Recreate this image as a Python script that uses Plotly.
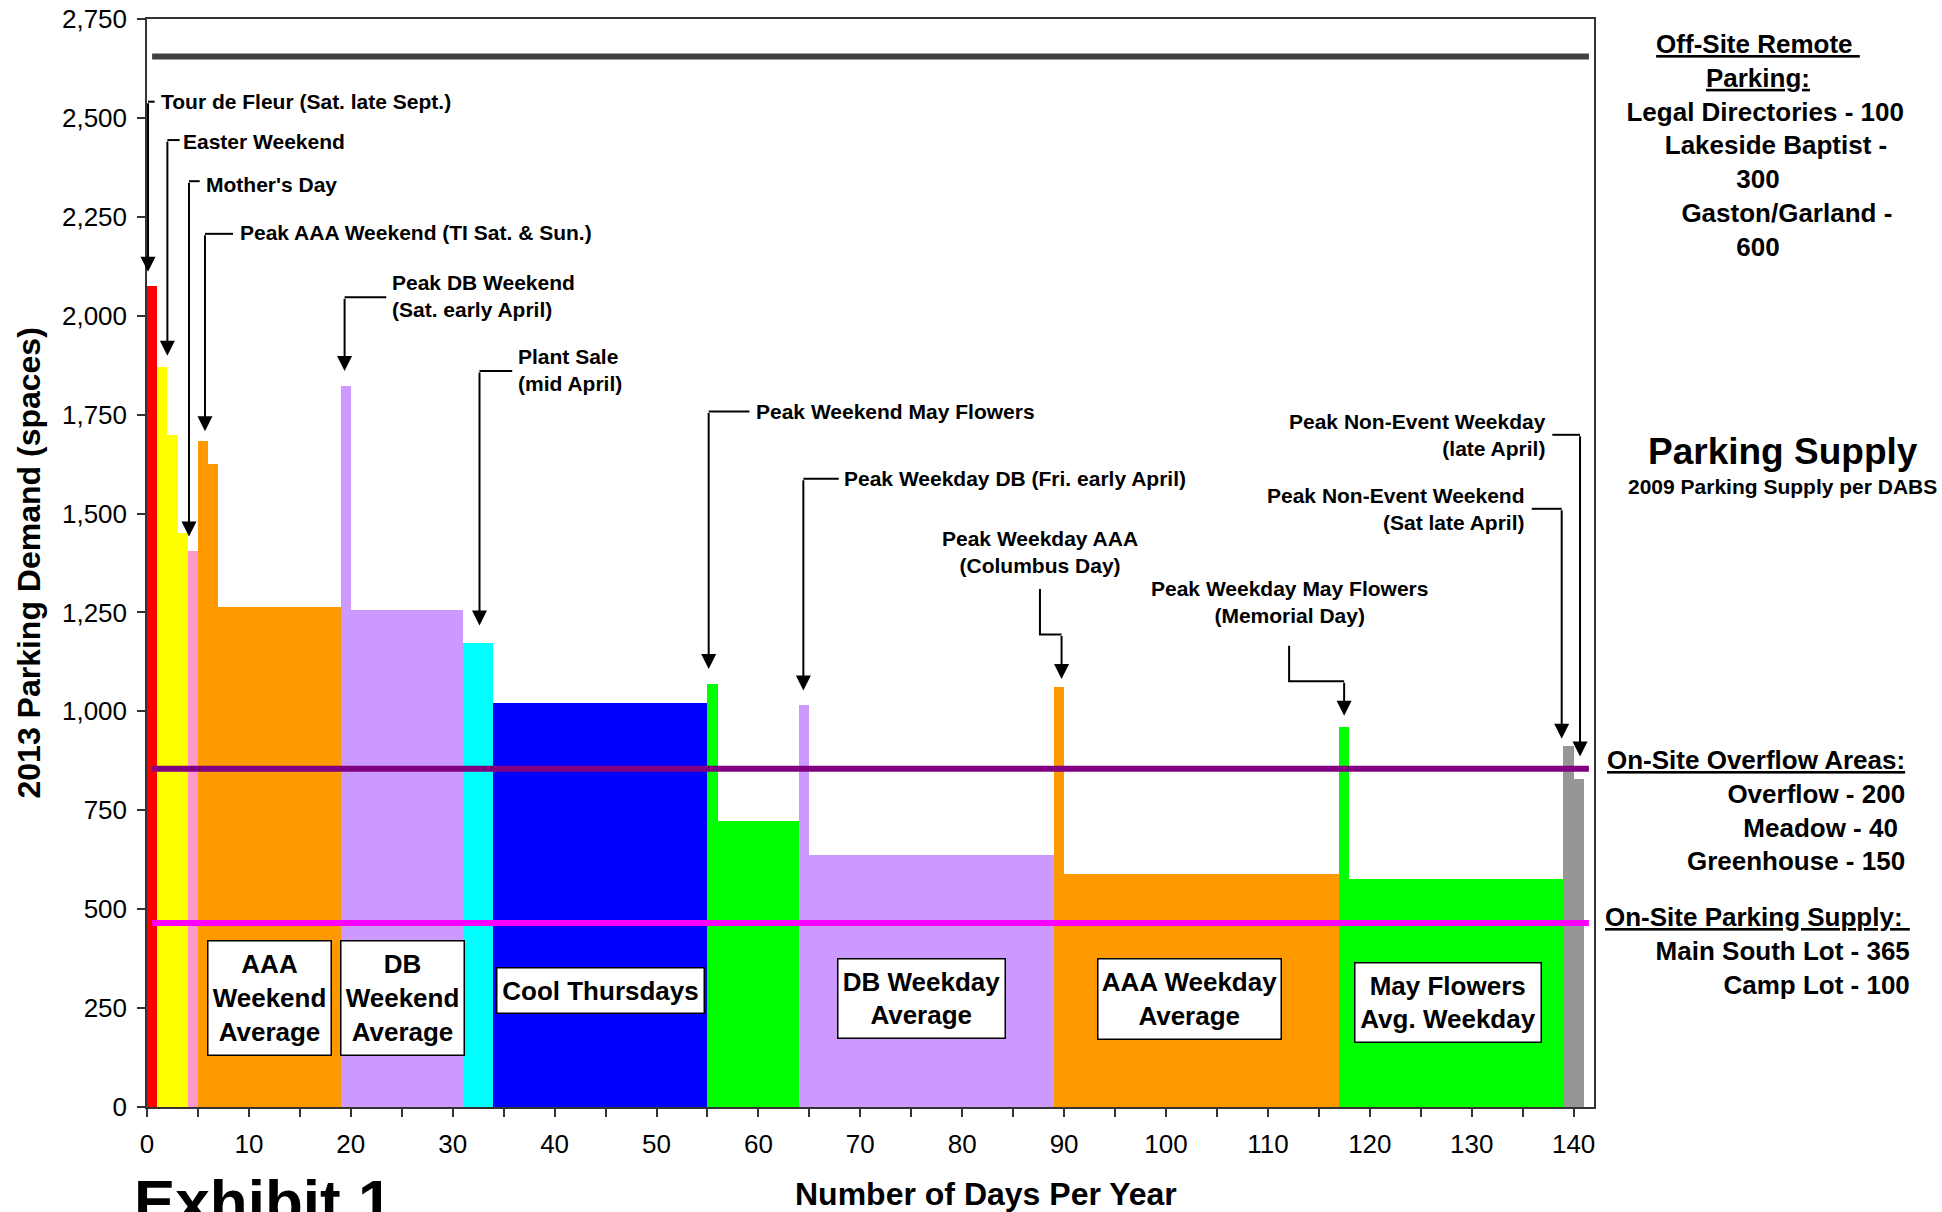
import plotly.graph_objects as go

# ---------------------------------------------------------------------------
# Parking demand profile: consecutive runs of days at a given demand level
# ---------------------------------------------------------------------------
RED, YELLOW, PINK, ORANGE = "#FF0000", "#FFFF00", "#FF99CC", "#FF9900"
LAVENDER, CYAN, BLUE, GREEN, GRAY = "#CC99FF", "#00FFFF", "#0000FF", "#00FF00", "#969696"

block_days = [1, 1, 1, 1, 1, 1, 1, 12, 1, 11, 3, 21, 1, 8, 1, 24, 1, 27, 1, 21, 1, 1]
block_demand = [2075, 1870, 1699, 1452, 1406, 1684, 1624, 1265, 1823, 1257, 1173,
                1020, 1070, 722, 1017, 636, 1062, 588, 961, 577, 913, 830]
block_colors = [RED, YELLOW, YELLOW, YELLOW, PINK, ORANGE, ORANGE, ORANGE,
                LAVENDER, LAVENDER, CYAN, BLUE, GREEN, GREEN, LAVENDER, LAVENDER,
                ORANGE, ORANGE, GREEN, GREEN, GRAY, GRAY]

# Supply levels (cumulative spaces)
supply_levels = [2655, 855, 465]
supply_colors = ["#404040", "#800080", "#FF00FF"]

n_days = 142
x_ticks = list(range(0, 141, 10))
y_ticks = list(range(0, 2751, 250))

FONT = "Liberation Sans, Arial, Helvetica, sans-serif"

# Figure geometry
W, H = 1942, 1212
ML, MR, MT, MB = 147, 348, 19, 105
PW = W - ML - MR
PH = H - MT - MB


def px(x):
    """figure pixel column -> paper x"""
    return (x - ML) / PW


def py(y):
    """figure pixel row -> paper y"""
    return (H - MB - y) / PH


starts = []
acc = 0
for d in block_days:
    starts.append(acc)
    acc += d
centers = [s + d / 2 for s, d in zip(starts, block_days)]

fig = go.Figure()

fig.add_trace(go.Bar(
    x=centers, y=block_demand, width=block_days,
    marker=dict(color=block_colors, line=dict(width=0)),
    showlegend=False, hoverinfo="x+y",
))

for level, col in zip(supply_levels, supply_colors):
    fig.add_trace(go.Scatter(
        x=[0.5, n_days - 0.5], y=[level, level], mode="lines",
        line=dict(color=col, width=6), showlegend=False, hoverinfo="y",
    ))

annotations = []
shapes = []

# Event callouts: label, label anchor, elbow connector ending in an arrow
callouts = [
    dict(text="Tour de Fleur (Sat. late Sept.)", x=1.35, y=2542, anchor="left",
         path=[(0.75, 2541), (0.1, 2541), (0.1, 2111)]),
    dict(text="Easter Weekend", x=3.5, y=2441, anchor="left",
         path=[(3.2, 2444), (2.0, 2444), (2.0, 1899)]),
    dict(text="Mother's Day", x=5.83, y=2331, anchor="left",
         path=[(5.17, 2340), (4.12, 2340), (4.12, 1442)]),
    dict(text="Peak AAA Weekend (TI Sat. & Sun.)", x=9.09, y=2211, anchor="left",
         path=[(8.44, 2207), (5.69, 2207), (5.69, 1708)]),
    dict(text="Peak DB Weekend<br>(Sat. early April)", x=24.03, y=2050, anchor="left",
         path=[(23.48, 2047), (19.39, 2047), (19.39, 1860)]),
    dict(text="Plant Sale<br>(mid April)", x=36.39, y=1863, anchor="left",
         path=[(35.84, 1860), (32.63, 1860), (32.63, 1217)]),
    dict(text="Peak Weekend May Flowers", x=59.77, y=1758, anchor="left",
         path=[(59.12, 1758), (55.12, 1758), (55.12, 1107)]),
    dict(text="Peak Weekday DB (Fri. early April)", x=68.44, y=1588, anchor="left",
         path=[(67.88, 1588), (64.41, 1588), (64.41, 1053)]),
    dict(text="Peak Weekday AAA<br>(Columbus Day)", x=87.63, y=1404, anchor="center",
         path=[(87.63, 1309), (87.63, 1194), (89.75, 1194), (89.75, 1082)]),
    dict(text="Peak Weekday May Flowers<br>(Memorial Day)", x=112.13, y=1276, anchor="center",
         path=[(112.08, 1166), (112.08, 1076), (117.48, 1076), (117.48, 989)]),
    dict(text="Peak Non-Event Weekday<br>(late April)", x=137.26, y=1698, anchor="right",
         path=[(137.91, 1699), (140.63, 1699), (140.63, 886)]),
    dict(text="Peak Non-Event Weekend<br>(Sat late April)", x=135.23, y=1511, anchor="right",
         path=[(135.89, 1512), (138.83, 1512), (138.83, 931)]),
]

for c in callouts:
    annotations.append(dict(
        text=c["text"], x=c["x"], y=c["y"], xref="x", yref="y",
        xanchor=c["anchor"], yanchor="middle", align=c["anchor"],
        showarrow=False, borderpad=0, borderwidth=0,
        font=dict(family=FONT, size=21, color="black", weight="bold"),
    ))
    pts = c["path"]
    lead = pts[:-1]
    d = "M " + " L ".join(f"{x},{y}" for x, y in lead)
    shapes.append(dict(type="path", path=d, xref="x", yref="y",
                       line=dict(color="black", width=2)))
    (xa, ya), (xt, yt) = pts[-2], pts[-1]
    annotations.append(dict(
        x=xt, y=yt, ax=xa, ay=ya, xref="x", yref="y", axref="x", ayref="y",
        text="", showarrow=True, arrowhead=2, arrowsize=1.5, arrowwidth=2,
        arrowcolor="black", standoff=0,
    ))

# Labelled boxes for the average-day blocks: text, centre (day, spaces), size px
boxes = [
    ("AAA<br>Weekend<br>Average", 12.07, 275.6, 125, 116),
    ("DB<br>Weekend<br>Average", 25.09, 276.5, 125, 116),
    ("Cool Thursdays", 44.53, 295.6, 209, 47),
    ("DB Weekday<br>Average", 75.98, 274.2, 169, 81),
    ("AAA Weekday<br>Average", 102.3, 273.2, 185, 82),
    ("May Flowers<br>Avg. Weekday", 127.7, 263.5, 188, 81),
]
for text, bx, by, bw, bh in boxes:
    annotations.append(dict(
        text=text, x=bx, y=by, xref="x", yref="y", xanchor="center", yanchor="middle",
        align="center", showarrow=False, width=bw - 3, height=bh - 3,
        bgcolor="white", bordercolor="black", borderwidth=1.5, borderpad=0,
        font=dict(family=FONT, size=26, color="black", weight="bold"),
    ))

NB = "\u00a0"
side_font = dict(family=FONT, size=26, color="black", weight="bold")

annotations += [
    dict(text=("<u>Off-Site Remote" + NB + "</u><br><u>Parking:</u><br>"
               + NB * 2 + "Legal Directories - 100<br>"
               + NB * 5 + "Lakeside Baptist -<br>300<br>"
               + NB * 8 + "Gaston/Garland -<br>600"),
         x=px(1758), y=py(145.6), xref="paper", yref="paper", xanchor="center",
         yanchor="middle", align="center", showarrow=False, font=side_font),
    dict(text="Parking Supply", x=px(1783), y=py(451), xref="paper", yref="paper",
         xanchor="center", yanchor="middle", showarrow=False,
         font=dict(family=FONT, size=37, color="black", weight="bold")),
    dict(text="2009 Parking Supply per DABS", x=px(1782), y=py(486.7),
         xref="paper", yref="paper", xanchor="center", yanchor="middle",
         showarrow=False, font=dict(family=FONT, size=21, color="black", weight="bold")),
    dict(text=("<u>On-Site Overflow Areas:</u><br>Overflow - 200<br>Meadow - 40" + NB
               + "<br>Greenhouse - 150"),
         x=px(1907), y=py(810.7), xref="paper", yref="paper", xanchor="right",
         yanchor="middle", align="right", showarrow=False, font=side_font),
    dict(text=("<u>On-Site Parking Supply:" + NB + "</u><br>Main South Lot - 365<br>"
               "Camp Lot - 100"),
         x=px(1912), y=py(950.8), xref="paper", yref="paper", xanchor="right",
         yanchor="middle", align="right", showarrow=False, font=side_font),
    # axis titles
    dict(text="2013 Parking Demand (spaces)", x=px(28), y=py(563.5), xref="paper",
         yref="paper", xanchor="center", yanchor="middle", textangle=-90,
         showarrow=False, font=dict(family=FONT, size=32, color="black", weight="bold")),
    dict(text="Number of Days Per Year", x=px(985.7), y=py(1194), xref="paper",
         yref="paper", xanchor="center", yanchor="middle", showarrow=False,
         font=dict(family=FONT, size=32, color="black", weight="bold")),
    dict(text="Exhibit 1", x=px(133), y=py(1201), xref="paper", yref="paper",
         xanchor="left", yanchor="middle", showarrow=False, borderpad=0,
         font=dict(family=FONT, size=62, color="black", weight="bold")),
]

fig.update_layout(
    width=W, height=H,
    margin=dict(l=ML, r=MR, t=MT, b=MB, pad=0, autoexpand=False),
    paper_bgcolor="white", plot_bgcolor="white",
    bargap=0, showlegend=False,
    annotations=annotations, shapes=shapes,
    font=dict(family=FONT, color="black"),
)

fig.update_xaxes(
    range=[0, n_days], tickvals=x_ticks, ticktext=[str(v) for v in x_ticks],
    ticks="outside", ticklen=8, tickwidth=1.5, tickcolor="#333",
    minor=dict(dtick=5, tick0=0, ticks="outside", ticklen=8, tickwidth=1.5,
               tickcolor="#333", showgrid=False),
    showline=True, linecolor="#333", linewidth=1.5, mirror=True,
    showgrid=False, zeroline=False, automargin=False, ticklabelstandoff=5,
    tickfont=dict(family=FONT, size=26, color="black"),
)
fig.update_yaxes(
    range=[0, 2750], tickvals=y_ticks, tickformat=",d",
    ticks="outside", ticklen=8, tickwidth=1.5, tickcolor="#333",
    showline=True, linecolor="#333", linewidth=1.5, mirror=True,
    showgrid=False, zeroline=False, automargin=False, ticklabelstandoff=5,
    tickfont=dict(family=FONT, size=26, color="black"),
)

fig.write_html("out.html")
